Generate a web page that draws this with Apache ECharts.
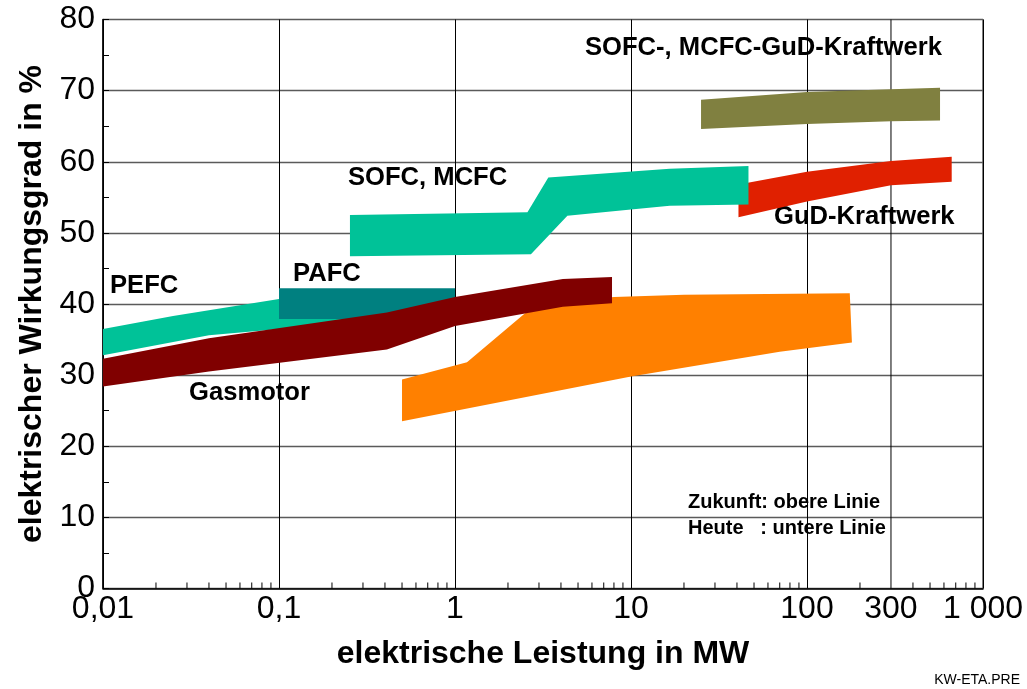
<!DOCTYPE html>
<html>
<head>
<meta charset="utf-8">
<script src="https://cdn.jsdelivr.net/npm/echarts@6/dist/echarts.min.js"></script>
<style>
    html, body { margin: 0; background: #fff; }
    #chart { width: 1027px; height: 689px; }
</style>
</head>
<body>
<div id="chart"></div>
<script>
const fontFamily = "'Liberation Sans', Arial, sans-serif"

// Achsen
const xTickValues = [0.01, 0.1, 1, 10, 100, 300, 1000]
const xTickLabels = ['0,01', '0,1', '1', '10', '100', '300', '1 000']
const xMinorTicks = [
    0.02, 0.03, 0.04, 0.05, 0.06, 0.07, 0.08, 0.09,
    0.2, 0.3, 0.4, 0.5, 0.6, 0.7, 0.8, 0.9,
    2, 3, 4, 5, 6, 7, 8, 9,
    20, 30, 40, 50, 60, 70, 80, 90,
    200, 400, 500, 600, 700, 800, 900
]
const xExtraGrid = [300]

// Bänder: obere Linie = Zukunft, untere Linie = heute  [MW, %]
const pefcUpper = [[0.01, 36.5], [0.025, 38.3], [0.1, 40.7], [0.3, 42.0]]
const pefcLower = [[0.01, 32.8], [0.04, 35.6], [0.3, 37.5]]
const pafcUpper = [[0.1, 42.2], [1, 42.2]]
const pafcLower = [[0.1, 37.9], [1, 37.9]]
const gasmotorUpper = [[0.01, 32.3], [0.04, 35.2], [0.41, 38.8], [1, 41.0], [4.1, 43.5], [7.8, 43.8]]
const gasmotorLower = [[0.01, 28.4], [0.04, 30.5], [0.41, 33.6], [1, 36.9], [4.1, 39.6], [7.8, 40.1]]
const gasturbineUpper = [[0.5, 29.4], [1.17, 31.8], [2.5, 38.7], [4.2, 40.3], [8, 41.0], [20, 41.3], [175, 41.5]]
const gasturbineLower = [[0.5, 23.5], [10, 29.8], [70, 33.3], [180, 34.6]]
const sofcUpper = [[0.253, 52.5], [2.58, 52.9], [3.39, 57.8], [16.6, 59.0], [46.5, 59.4]]
const sofcLower = [[0.253, 46.7], [2.7, 47.0], [4.35, 52.4], [10, 53.3], [16.6, 53.8], [46.5, 54.0]]
const gudUpper = [[40.8, 56.8], [100, 58.6], [300, 60.1], [664, 60.7]]
const gudLower = [[40.8, 52.2], [100, 54.4], [300, 56.7], [664, 57.2]]
const sofcGudUpper = [[25, 68.7], [100, 69.8], [300, 70.2], [570, 70.4]]
const sofcGudLower = [[25, 64.6], [100, 65.3], [300, 65.7], [570, 65.8]]

const chart = echarts.init(document.getElementById('chart'))

const band = (name, upper, lower, color) => {
    const outline = upper.concat(lower.slice().reverse())
    return {
        name,
        type: 'custom',
        silent: true,
        data: outline,
        renderItem: (params, api) => {
            if (params.dataIndex !== 0) return null
            return {
                type: 'polygon',
                shape: { points: outline.map(p => api.coord(p)) },
                style: { fill: color }
            }
        }
    }
}

const tickLabel = (v) => {
    // nächsten Tick im Log-Raum suchen
    let best = 0
    xTickValues.forEach((t, i) => {
        if (Math.abs(Math.log10(t) - Math.log10(v)) < Math.abs(Math.log10(xTickValues[best]) - Math.log10(v))) best = i
    })
    return xTickLabels[best]
}

const text = (str, x, y, size, weight) => ({
    type: 'text',
    x, y,
    style: {
        text: str,
        fill: '#000',
        font: `${weight} ${size}px ${fontFamily}`,
        verticalAlign: 'middle'
    }
})

const option = {
    animation: false,
    backgroundColor: '#fff',
    grid: {
        left: 103,
        right: 44,
        top: 19.5,
        bottom: 100.5,
        show: true,
        borderColor: '#000',
        borderWidth: 1
    },
    xAxis: {
        type: 'log',
        logBase: 10,
        min: 0.01,
        max: 1000,
        splitNumber: 5,
        name: 'elektrische Leistung in MW',
        nameLocation: 'middle',
        nameGap: 50,
        nameTextStyle: { fontFamily, fontSize: 32, fontWeight: 'bold', color: '#000' },
        axisLine: { show: true, lineStyle: { color: '#000', width: 1.5 } },
        axisTick: { show: false },
        axisLabel: {
            customValues: xTickValues,
            formatter: tickLabel,
            fontFamily,
            fontSize: 32,
            color: '#000',
            margin: 5
        },
        splitLine: { show: true, lineStyle: { color: '#000', width: 1 } }
    },
    yAxis: {
        type: 'value',
        min: 0,
        max: 80,
        interval: 10,
        name: 'elektrischer Wirkungsgrad in %',
        nameLocation: 'middle',
        nameGap: 50,
        nameTextStyle: { fontFamily, fontSize: 32, fontWeight: 'bold', color: '#000' },
        axisLine: { show: true, lineStyle: { color: '#000', width: 1.5 } },
        axisTick: { show: true, inside: true, length: 6, lineStyle: { color: '#000' } },
        minorTick: { show: true, splitNumber: 2, length: 6, lineStyle: { color: '#000', width: 1 } },
        axisLabel: { fontFamily, fontSize: 32, color: '#000', margin: 8 },
        splitLine: { show: true, lineStyle: { color: '#5a5a5a', width: 1.3 } }
    },
    series: [
        {
            name: 'grid300',
            type: 'line',
            silent: true,
            symbol: 'none',
            data: [[xExtraGrid[0], 0], [xExtraGrid[0], 80]],
            lineStyle: { color: '#000', width: 1 },
            z: 1
        },
        {
            name: 'minorTicks',
            type: 'custom',
            silent: true,
            data: xMinorTicks.map(v => [v, 0]),
            renderItem: (params, api) => {
                const p = api.coord([api.value(0), 0])
                return {
                    type: 'line',
                    shape: { x1: p[0], y1: p[1], x2: p[0], y2: p[1] - 6 },
                    style: { stroke: '#000', lineWidth: 1 }
                }
            }
        },
        band('Gasturbine', gasturbineUpper, gasturbineLower, '#FF8000'),
        band('PEFC', pefcUpper, pefcLower, '#00C298'),
        band('PAFC', pafcUpper, pafcLower, '#008080'),
        band('Gasmotor', gasmotorUpper, gasmotorLower, '#800000'),
        band('GuD-Kraftwerk', gudUpper, gudLower, '#E02000'),
        band('SOFC, MCFC', sofcUpper, sofcLower, '#00C298'),
        band('SOFC-, MCFC-GuD-Kraftwerk', sofcGudUpper, sofcGudLower, '#808040')
    ],
    graphic: [
        text('SOFC-, MCFC-GuD-Kraftwerk', 585, 48, 25.6, 'bold'),
        text('SOFC, MCFC', 348, 178, 25.6, 'bold'),
        text('PEFC', 110, 286, 25.6, 'bold'),
        text('PAFC', 293, 274, 25.6, 'bold'),
        text('Gasmotor', 189, 393, 25.6, 'bold'),
        text('Gasturbine', 532, 349, 25.6, 'bold'),
        text('GuD-Kraftwerk', 774, 217, 25.6, 'bold'),
        text('Zukunft: obere Linie', 688, 502, 20, 'bold'),
        text('Heute   : untere Linie', 688, 528, 20, 'bold'),
        {
            type: 'text',
            right: 7,
            top: 673,
            style: { text: 'KW-ETA.PRE', fill: '#000', font: `14px ${fontFamily}` }
        }
    ]
}

chart.setOption(option)
</script>
</body>
</html>
